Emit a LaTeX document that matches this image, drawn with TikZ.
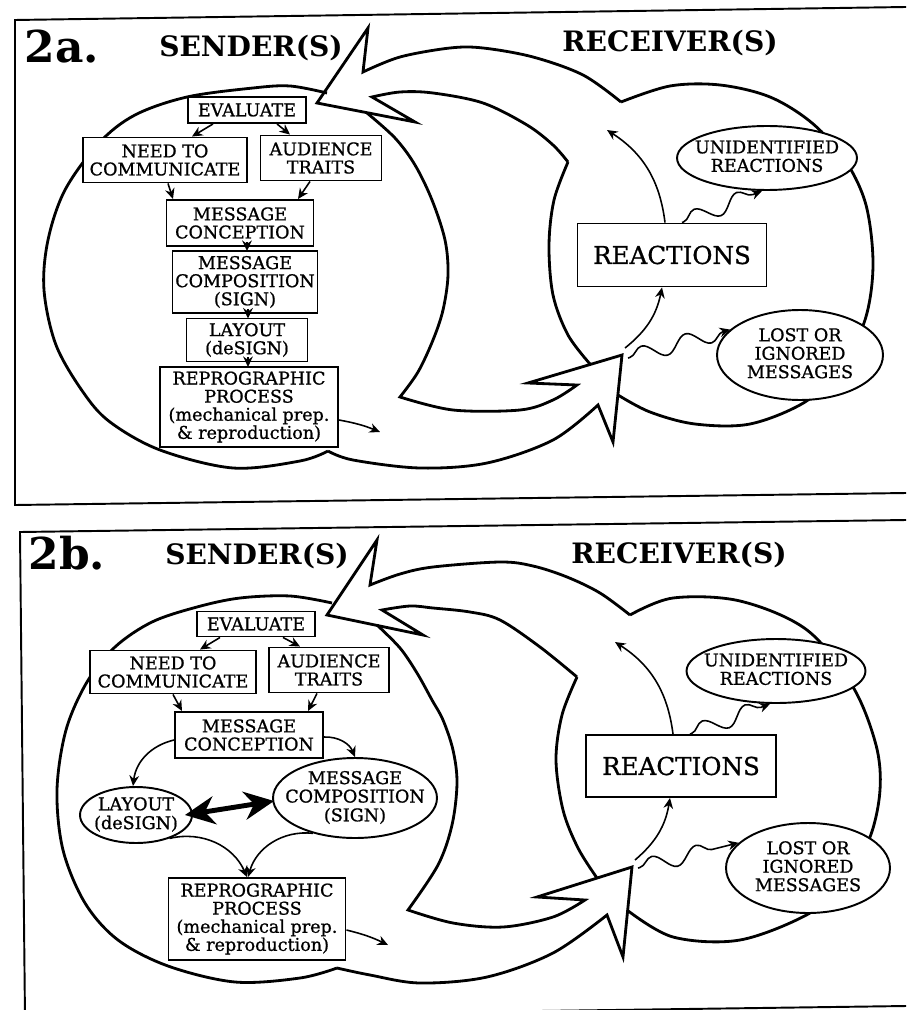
\documentclass[tikz,border=0pt]{standalone}
\usepackage{fontspec}
\setmainfont{DejaVu Serif}
\newfontfamily\labelfam{DejaVu Serif}[FakeBold=0.9]
\usetikzlibrary{arrows.meta,shapes.geometric,calc,decorations.pathmorphing}

\newcommand\boxfont{\labelfam\fontsize{10}{10.3}\selectfont}
\newcommand\headfont{\fontsize{16}{18}\selectfont\bfseries}
\newcommand\bignum{\fontsize{25}{28}\selectfont\bfseries}
\newcommand\reactfont{\labelfam\fontsize{14}{16}\selectfont}
% centred text of zero size, so an oval keeps exactly its given size
\newcommand\ztext[1]{\raisebox{-0.3em}[0pt][0pt]{\makebox[0pt]{\begin{tabular}{@{}c@{}}#1\end{tabular}}}}

\begin{document}
\begin{tikzpicture}[x=0.02cm,y=-0.02cm,
  bigline/.style={line width=1.6pt, line join=miter, miter limit=14},
  panelline/.style={line width=1.1pt},
  rbox/.style={draw, line width=1.1pt, fill=white, rectangle, inner sep=0pt, align=center, font=\boxfont},
  obox/.style={draw, line width=1.1pt, fill=white, ellipse, inner sep=0pt, font=\boxfont},
  link/.style={line width=0.9pt, -{Stealth[length=6pt,width=5.5pt]}},
  wlink/.style={link, decorate, decoration={snake, amplitude=4.5pt, segment length=26pt, pre length=1pt, post length=4pt}},
  fatlink/.style={line width=2.8pt, {Stealth[length=17pt,width=16pt]}-{Stealth[length=17pt,width=16pt]}},
  smooth curve/.style={smooth, tension=0.55}]

\useasboundingbox (0,0) rectangle (906,1010);
\clip (0,0) rectangle (906,1010);
\fill[white] (0,0) rectangle (906,1010);

% ------------------------------------------------------------ panel 2a
\draw[panelline] (906,7) -- (15,20) -- (15,505) -- (906,493);

\node[font=\bignum] (numA) at (62,47) {2a.};
\node[font=\headfont] (sndA) at (251,48) {SENDER(S)};
\node[font=\headfont] (rcvA) at (670,43) {RECEIVER(S)};

% sender outline
\draw[bigline] plot[smooth curve] coordinates {(327,93) (290,86) (253,88) (187,97) (135,115) (99,143) (65,190) (48,240) (44,290) (56,345) (83,392) (110,422) (160,450) (233,468) (300,461) (328,451)};
% feedback band with its head
\draw[bigline] plot[smooth curve] coordinates {(621,102) (583,75) (533,57) (483,48) (450,48) (400,57) (363,72)}
  -- (368,28) -- (317,103) -- (415,122) -- (372,97)
  -- plot[smooth curve] coordinates {(372,97) (400,92) (433,93) (483,103) (527,125) (553,145) (568,162)};
% message band with its head
\draw[bigline] plot[smooth curve] coordinates {(367,113) (395,138) (415,165) (432,200) (445,240) (448,275) (443,310) (433,340) (418,372) (400,397)}
  -- plot[smooth curve] coordinates {(400,397) (453,410) (520,410) (553,400) (577,385)}
  -- (528,383) -- (622,355) -- (613,442) -- (598,405)
  -- plot[smooth curve] coordinates {(598,405) (553,440) (487,463) (420,468) (353,460) (328,451)};
% receiver outline
\draw[bigline] plot[smooth curve] coordinates {(621,102) (670,86) (720,85) (770,97) (812,123) (845,160) (866,205) (873,265) (865,320) (840,368) (805,402) (750,424) (695,424) (650,412) (618,395)};
\draw[bigline] plot[smooth curve] coordinates {(568,162) (554,200) (549,245) (553,295) (568,335) (590,364)};

\node[rbox, minimum width=2.36cm, minimum height=0.52cm] (evA) at (247,110) {EVALUATE};
\node[rbox, minimum width=3.28cm, minimum height=0.9cm] (needA) at (165,160) {NEED TO\\COMMUNICATE};
\node[rbox, minimum width=2.42cm, minimum height=0.9cm] (audA) at (321,158) {AUDIENCE\\TRAITS};
\node[rbox, minimum width=2.94cm, minimum height=0.92cm] (concA) at (240,223) {MESSAGE\\CONCEPTION};
\node[rbox, minimum width=2.9cm, minimum height=1.24cm] (compA) at (245,282) {MESSAGE\\COMPOSITION\\(SIGN)};
\node[rbox, minimum width=2.42cm, minimum height=0.86cm] (layA) at (247,340) {LAYOUT\\(deSIGN)};
\node[rbox, minimum width=3.56cm, minimum height=1.6cm] (repA) at (249,407) {REPROGRAPHIC\\PROCESS\\(mechanical prep.\\\& reproduction)};
\node[rbox, font=\reactfont, minimum width=3.78cm, minimum height=1.26cm] (reactA) at (672,255) {REACTIONS};
\node[obox, minimum width=3.6cm, minimum height=1.28cm] (unidA) at (767,158) {\ztext{UNIDENTIFIED\\REACTIONS}};
\node[obox, minimum width=3.32cm, minimum height=1.8cm] (lostA) at (800,355) {\ztext{LOST OR\\IGNORED\\MESSAGES}};

\coordinate (outA) at (380,432);
\coordinate (fbA) at (607,130);
\coordinate (inA) at (625,348);
\coordinate (lsA) at (628,358);

\draw[link] ($(evA.south)+(-34,0)$) -- ($(needA.north)+(27,0)$);
\draw[link] ($(evA.south)+(30,0)$) -- ($(audA.north)+(-31,0)$);
\draw[link] ($(needA.south)+(3,0)$) -- ($(concA.north)+(-67,0)$);
\draw[link] ($(audA.south)+(-11,0)$) -- ($(concA.north)+(58,0)$);
\draw[link] ($(concA.south)+(7,-5)$) -- ($(compA.north)+(2,1)$);
\draw[link] ($(compA.south)+(3,-5)$) -- ($(layA.north)+(1,1)$);
\draw[link] ($(layA.south)+(1,-5)$) -- ($(repA.north)+(-1,1)$);
\draw[link] ($(repA.east)+(0,13)$) to[bend left=6] (outA);
\draw[link] (inA) to[bend right=20] ($(reactA.south)+(-10,0)$);
\draw[link] ($(reactA.north)+(-7,0)$) to[bend right=25] (fbA);
\draw[wlink] ($(reactA.north)+(10,0)$) -- ($(unidA.south)+(-5,0)$);
\draw[wlink] (lsA) -- (lostA.160);

% ------------------------------------------------------------ panel 2b
\draw[panelline] (906,520) -- (20,532) -- (25,1018) -- (906,1006);

\node[font=\bignum] (numB) at (67,553) {2b.};
\node[font=\headfont] (sndB) at (257,556) {SENDER(S)};
\node[font=\headfont] (rcvB) at (679,555) {RECEIVER(S)};

% sender outline
\draw[bigline] plot[smooth curve] coordinates {(332,603) (290,596) (240,598) (197,607) (152,622) (115,647) (87,682) (66,730) (57,790) (63,850) (85,903) (118,940) (168,966) (235,982) (300,978) (337,968)};
% feedback band with its head
\draw[bigline] plot[smooth curve] coordinates {(630,615) (600,593) (567,577) (533,566) (500,562) (433,567) (400,574) (370,585)}
  -- (377,540) -- (327,615) -- (423,635) -- (382,610)
  -- plot[smooth curve] coordinates {(382,610) (410,606) (433,608) (470,612) (500,620) (540,647) (577,677)};
% message band with its head
\draw[bigline] plot[smooth curve] coordinates {(377,625) (400,648) (417,673) (432,700) (443,720) (453,750) (457,783) (452,825) (438,865) (408,910)}
  -- plot[smooth curve] coordinates {(408,910) (453,923) (503,927) (553,917) (585,900)}
  -- (537,897) -- (632,867) -- (623,957) -- (607,915)
  -- plot[smooth curve] coordinates {(607,915) (553,953) (487,977) (420,983) (370,975) (337,968)};
% receiver outline
\draw[bigline] plot[smooth curve] coordinates {(630,615) (673,598) (740,601) (807,630) (853,687) (876,745) (880,790) (870,837) (845,880) (810,913) (740,940) (673,937) (627,910)};
\draw[bigline] plot[smooth curve] coordinates {(577,677) (562,715) (556,760) (563,810) (578,848) (597,878)};

\node[rbox, minimum width=2.36cm, minimum height=0.5cm] (evB) at (256,624) {EVALUATE};
\node[rbox, minimum width=3.32cm, minimum height=0.86cm] (needB) at (173,672) {NEED TO\\COMMUNICATE};
\node[rbox, minimum width=2.4cm, minimum height=0.9cm] (audB) at (329,670) {AUDIENCE\\TRAITS};
\node[rbox, minimum width=2.96cm, minimum height=0.92cm] (concB) at (249,735) {MESSAGE\\CONCEPTION};
\node[obox, minimum width=2.24cm, minimum height=1.12cm] (layB) at (136,815) {\ztext{LAYOUT\\(deSIGN)}};
\node[obox, minimum width=3.28cm, minimum height=1.6cm] (compB) at (355,798) {\ztext{MESSAGE\\COMPOSITION\\(SIGN)}};
\node[rbox, minimum width=3.54cm, minimum height=1.64cm] (repB) at (257,919) {REPROGRAPHIC\\PROCESS\\(mechanical prep.\\\& reproduction)};
\node[rbox, font=\reactfont, minimum width=3.8cm, minimum height=1.24cm] (reactB) at (681,766) {REACTIONS};
\node[obox, minimum width=3.58cm, minimum height=1.28cm] (unidB) at (776,671) {\ztext{UNIDENTIFIED\\REACTIONS}};
\node[obox, minimum width=3.28cm, minimum height=1.8cm] (lostB) at (808,868) {\ztext{LOST OR\\IGNORED\\MESSAGES}};

\coordinate (outB) at (388,945);
\coordinate (fbB) at (615,642);
\coordinate (inB) at (635,860);
\coordinate (lsB) at (638,868);

\draw[link] ($(evB.south)+(-36,0)$) -- ($(needB.north)+(27,0)$);
\draw[link] ($(evB.south)+(27,0)$) -- ($(audB.north)+(-29,0)$);
\draw[link] (needB.south) -- ($(concB.north)+(-67,0)$);
\draw[link] ($(audB.south)+(-12,0)$) -- ($(concB.north)+(59,0)$);
\draw[link] ($(concB.west)+(0,5)$) to[bend right=35] ($(layB.north)+(-3,0)$);
\draw[link] ($(concB.east)+(0,2)$) to[bend left=35] (compB.north);
\draw[link] (layB.-35) to[bend left=40] ($(repB.north)+(-10,0)$);
\draw[link] (compB.-140) to[bend right=40] ($(repB.north)+(-9,0)$);
\draw[fatlink] ($(layB.east)+(-8,0)$) -- ($(compB.west)+(2,3)$);
\draw[link] ($(repB.east)+(0,11)$) to[bend left=6] (outB);
\draw[link] (inB) to[bend right=20] ($(reactB.south)+(-11,0)$);
\draw[link] ($(reactB.north)+(-8,0)$) to[bend right=25] (fbB);
\draw[wlink] ($(reactB.north)+(9,0)$) -- ($(unidB.south)+(-6,0)$);
\draw[wlink] (lsB) -- (lostB.160);
\end{tikzpicture}
\end{document}
